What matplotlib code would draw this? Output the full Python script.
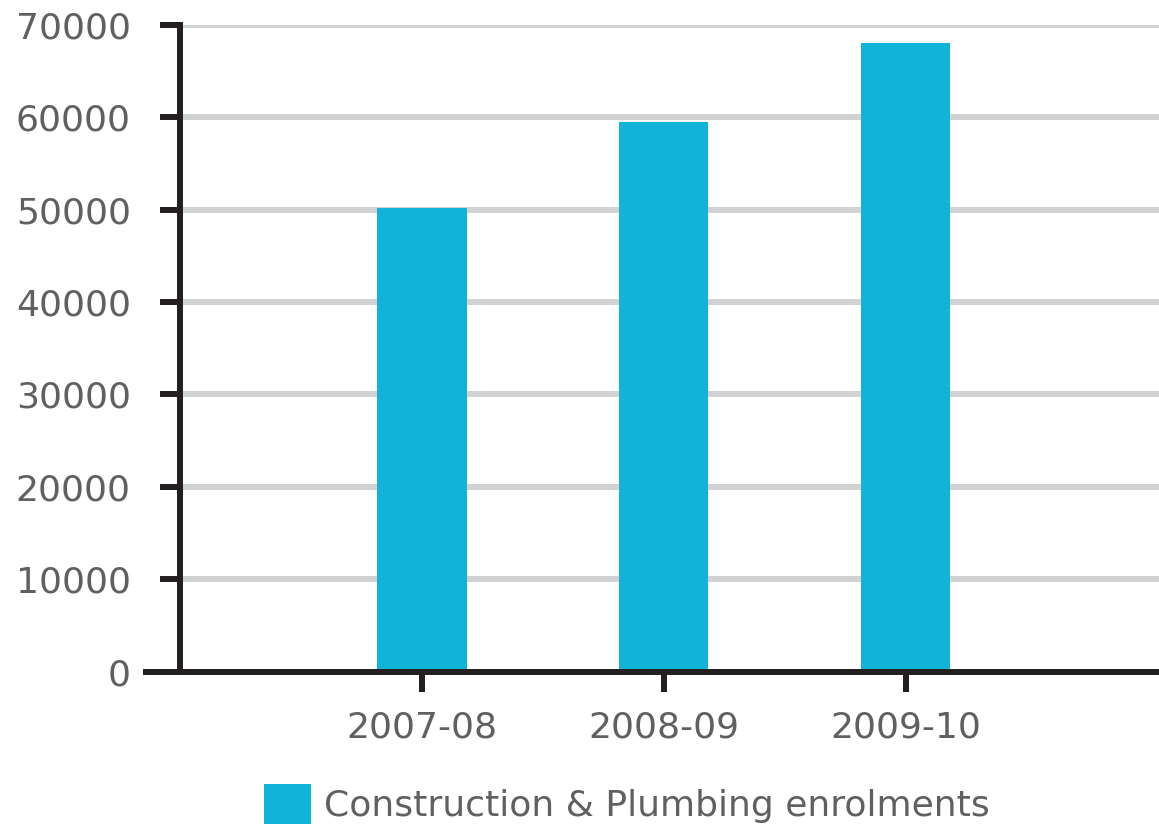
import matplotlib
matplotlib.use("Agg")
import matplotlib.pyplot as plt
from matplotlib.patches import Patch

categories = ["2007-08", "2008-09", "2009-10"]
enrolments = [50200, 59500, 68000]
series_name = "Construction & Plumbing enrolments"
yticks = [0, 10000, 20000, 30000, 40000, 50000, 60000, 70000]

BAR = "#12b3d8"
TXT = "#5f6062"
AX = "#231f20"
GRID = "#d1d2d4"

plt.rcParams["font.family"] = ["DejaVu Sans"]

fig = plt.figure(figsize=(11.59, 8.24), dpi=100)
ax = fig.add_axes([180/1159, 1 - 671.5/824, (1158.5-180)/1159, (671.5-25)/824])

pos = [1, 2, 3]
ax.bar(pos, enrolments, width=0.37, color=BAR, zorder=3)

ax.set_xlim(0, 979/242)
ax.set_ylim(0, 70000)
ax.set_yticks(yticks)
ax.set_yticklabels([str(v) for v in yticks])
ax.set_xticks(pos)
ax.set_xticklabels(categories)

ax.yaxis.grid(True, color=GRID, linewidth=4.3, zorder=0)
ax.set_axisbelow(True)

for s in ["top", "right"]:
    ax.spines[s].set_visible(False)
for s in ["left", "bottom"]:
    ax.spines[s].set_color(AX)
    ax.spines[s].set_linewidth(4.3)
    ax.spines[s].set_zorder(4)

ax.tick_params(axis="y", length=14.4, width=4.3, color=AX, pad=21,
               labelsize=26, labelcolor=TXT)
ax.tick_params(axis="x", length=14.4, width=4.3, color=AX, pad=14,
               labelsize=26, labelcolor=TXT)

# bottom axis extends left past the y axis
ax.plot([-0.038, 0], [0, 0], transform=ax.transAxes, color=AX,
        linewidth=4.3, clip_on=False, solid_capstyle="butt", zorder=5)

handle = Patch(facecolor=BAR, edgecolor="none")
fig.legend([handle], [series_name], loc="center",
           bbox_to_anchor=(627/1159, 1 - 804/824), frameon=False,
           fontsize=26, labelcolor=TXT, handlelength=1.3, handleheight=1.3,
           handletextpad=0.35, borderpad=0, borderaxespad=0)

fig.savefig("out.png", dpi=100, facecolor="white")
